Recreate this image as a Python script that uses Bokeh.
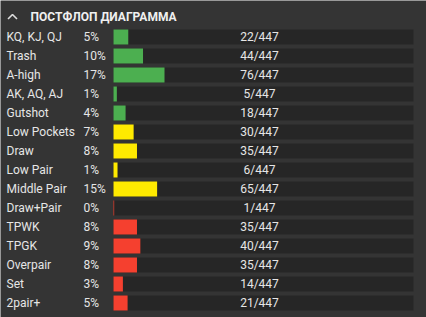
from bokeh.plotting import figure
from bokeh.models import Range1d, ColumnDataSource
from bokeh.core.properties import value
from bokeh.embed import file_html
from bokeh.resources import INLINE

title = "ПОСТФЛОП ДИАГРАММА"
categories = ["KQ, KJ, QJ", "Trash", "A-high", "AK, AQ, AJ", "Gutshot",
              "Low Pockets", "Draw", "Low Pair", "Middle Pair", "Draw+Pair",
              "TPWK", "TPGK", "Overpair", "Set", "2pair+"]
counts = [22, 44, 76, 5, 18, 30, 35, 6, 65, 1, 35, 40, 35, 14, 21]
total = 447
groups = ["green"] * 5 + ["yellow"] * 4 + ["red"] * 6

palette = {"green": "#4caf50", "yellow": "#ffea00", "red": "#f5402f"}
BG = "#343434"
TRACK = "#262626"
TXT = "#e6e6e6"
FONT = "Roboto"

W, H = 426, 317
px_per_unit_x = 3.0      # 1 percent = 3 px
x0_px = 113.0
row_px = 19.0
y0_px = 36.5

rows = list(range(len(categories)))
pct = [c / total * 100 for c in counts]
pct_labels = [f"{round(v)}%" for v in pct]
count_labels = [f"{c}/{total}" for c in counts]
colors = [palette[g] for g in groups]

def dx(px):
    return (px - x0_px) / px_per_unit_x

def dy(px):
    return (px - y0_px) / row_px

p = figure(width=W, height=H, output_backend="svg", toolbar_location=None,
           x_range=Range1d(dx(0), dx(W)), y_range=Range1d(dy(H), dy(0)),
           min_border=0)
p.axis.visible = False
p.grid.visible = False
p.outline_line_color = None
p.background_fill_color = BG
p.border_fill_color = BG

src = ColumnDataSource(dict(y=rows, cat=categories, pct=pct, pl=pct_labels,
                            cl=count_labels, color=colors,
                            zero=[0] * len(rows), full=[100] * len(rows)))

bar_h = 15 / row_px
p.hbar(y="y", left="zero", right="full", height=bar_h, fill_color=TRACK,
       line_color=None, source=src)
p.hbar(y="y", left="zero", right="pct", height=bar_h, fill_color="color",
       line_color=None, source=src)

p.text(x=dx(6), y="y", text="cat", source=src, text_font=value(FONT),
       text_font_size="12px", text_color=TXT, text_baseline="middle",
       text_align="left")
p.text(x=dx(83), y="y", text="pl", source=src, text_font=value(FONT),
       text_font_size="12px", text_color=TXT, text_baseline="middle",
       text_align="left")
p.text(x=dx(259), y="y", text="cl", source=src, text_font=value(FONT),
       text_font_size="12px", text_color=TXT, text_baseline="middle",
       text_align="center")

# header
p.line(x=[dx(7.5), dx(12), dx(16.5)], y=[dy(18.5), dy(14), dy(18.5)],
       line_color="#dddddd", line_width=1.6)
p.text(x=[dx(30)], y=[dy(16.5)], text=[title], text_font=value(FONT),
       text_font_size="12px", text_font_style="bold", text_color="#f0f0f0",
       text_baseline="middle", text_align="left")

open("out.html", "w").write(file_html(p, INLINE))
